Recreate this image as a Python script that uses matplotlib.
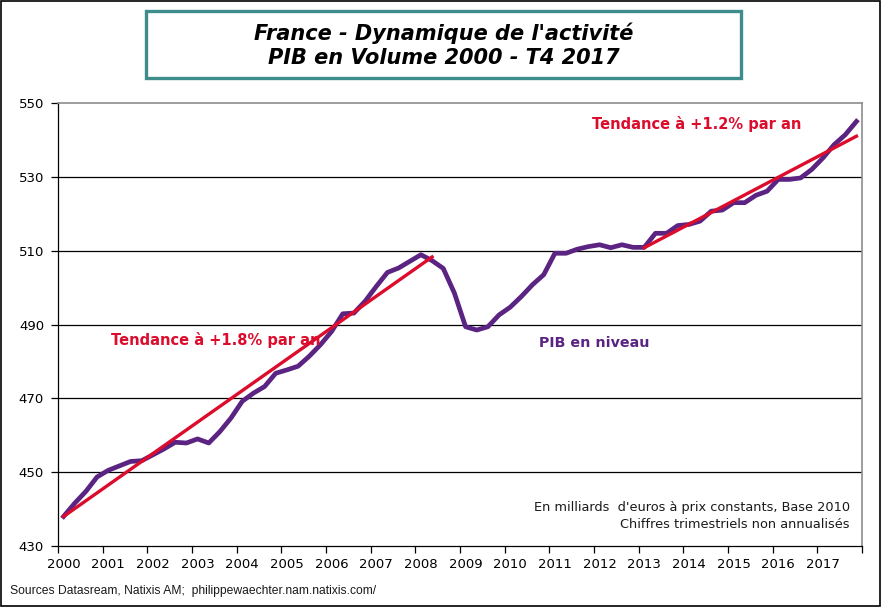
import matplotlib
matplotlib.use("Agg")
import matplotlib.pyplot as plt
from matplotlib.patches import Rectangle
import numpy as np

# Quarterly GDP volume (bn EUR), 2000Q1 - 2017Q4
gdp = [438.0, 441.6, 444.8, 448.7, 450.5, 451.7, 452.9, 453.1,
       454.7, 456.3, 458.1, 457.9, 459.0, 457.9, 461.0, 464.7,
       469.2, 471.4, 473.2, 476.8, 477.7, 478.7, 481.4, 484.5,
       488.1, 492.9, 493.1, 496.3, 500.3, 504.1, 505.3, 507.1,
       508.9, 507.3, 505.2, 498.5, 489.4, 488.5, 489.4, 492.6,
       494.7, 497.6, 500.8, 503.5, 509.3, 509.3, 510.4, 511.1,
       511.6, 510.8, 511.6, 510.9, 510.9, 514.7, 514.7, 516.8,
       517.1, 518.0, 520.7, 521.0, 523.0, 523.0, 525.0, 526.1,
       529.3, 529.3, 529.7, 532.0, 535.1, 538.7, 541.4, 545.0]
# Trend lines (quarter index, level)
trend1_q = [0, 33]
trend1_v = [438.0, 508.3]
trend2_q = [52, 71]
trend2_v = [510.8, 541.0]
years = [str(y) for y in range(2000, 2018)]
yticks = [430, 450, 470, 490, 510, 530, 550]

PURPLE = '#5B2382'
RED = '#DC0C2C'

fig = plt.figure(figsize=(8.82, 6.07), dpi=100)
fig.patch.set_facecolor('white')
# outer frame
fig.add_artist(Rectangle((0.001, 0.002), 0.997, 0.996, transform=fig.transFigure,
                         fill=False, edgecolor='black', linewidth=1.2))

ax = fig.add_axes([58/882, 1-546/607, (862-58)/882, (546-103)/607])
q = np.arange(len(gdp)) + 0.5
ax.set_xlim(0, 72)
ax.set_ylim(430, 550)
for v in yticks[1:-1]:
    ax.axhline(v, color='black', linewidth=0.9, zorder=1)

ax.plot(q, gdp, color=PURPLE, linewidth=3.4, solid_joinstyle='round', zorder=3)
ax.plot(np.array(trend1_q) + 0.5, trend1_v, color=RED, linewidth=2.4, zorder=4)
ax.plot(np.array(trend2_q) + 0.5, trend2_v, color=RED, linewidth=2.4, zorder=4)

ax.set_yticks(yticks)
ax.set_yticklabels([str(v) for v in yticks], fontsize=9.5, family='DejaVu Sans')
ax.set_xticks(np.arange(0, 73, 4))
ax.set_xticklabels([])
ax.set_xticks(np.arange(0, 72, 4) + 0.5, minor=True)
ax.set_xticklabels(years, minor=True, fontsize=9.5)
ax.tick_params(axis='x', which='minor', length=0, pad=9)
ax.tick_params(axis='x', which='major', length=5, direction='out', width=0.9)
ax.tick_params(axis='y', length=5, direction='out', width=0.9, pad=5)
for side in ['top', 'right']:
    ax.spines[side].set_color('#8c8c8c')
    ax.spines[side].set_linewidth(1.2)
for side in ['left', 'bottom']:
    ax.spines[side].set_color('black')
    ax.spines[side].set_linewidth(0.9)

ax.text(216/882, 1-340/607, 'Tendance à +1.8% par an', transform=fig.transFigure,
        color=RED, fontsize=10.5, fontweight='bold', ha='center', va='center')
ax.text(697/882, 1-124/607, 'Tendance à +1.2% par an', transform=fig.transFigure,
        color=RED, fontsize=10.5, fontweight='bold', ha='center', va='center')
ax.text(594/882, 1-343/607, 'PIB en niveau', transform=fig.transFigure,
        color=PURPLE, fontsize=10.3, fontweight='bold', ha='center', va='center')
ax.text(850/882, 1-508/607, "En milliards  d'euros à prix constants, Base 2010",
        transform=fig.transFigure, color='#1a1a1a', fontsize=9.3, ha='right', va='center')
ax.text(850/882, 1-525/607, "Chiffres trimestriels non annualisés",
        transform=fig.transFigure, color='#1a1a1a', fontsize=9.3, ha='right', va='center')
fig.text(10/882, 1-591/607, "Sources Datasream, Natixis AM;  philippewaechter.nam.natixis.com/",
         family='Liberation Sans', fontsize=8.7, ha='left', va='center', color='#1a1a1a')

# title box
fig.add_artist(Rectangle((146/882, 1-78/607), (741-146)/882, (78-11)/607,
                         transform=fig.transFigure, fill=False,
                         edgecolor='#3F8C8C', linewidth=2.4))
fig.text(444/882, 1-33/607, "France - Dynamique de l'activité", fontsize=15,
         fontweight='bold', fontstyle='italic', ha='center', va='center')
fig.text(444/882, 1-58/607, "PIB en Volume 2000 - T4 2017", fontsize=15,
         fontweight='bold', fontstyle='italic', ha='center', va='center')

fig.savefig('out.png', dpi=100, facecolor='white')
